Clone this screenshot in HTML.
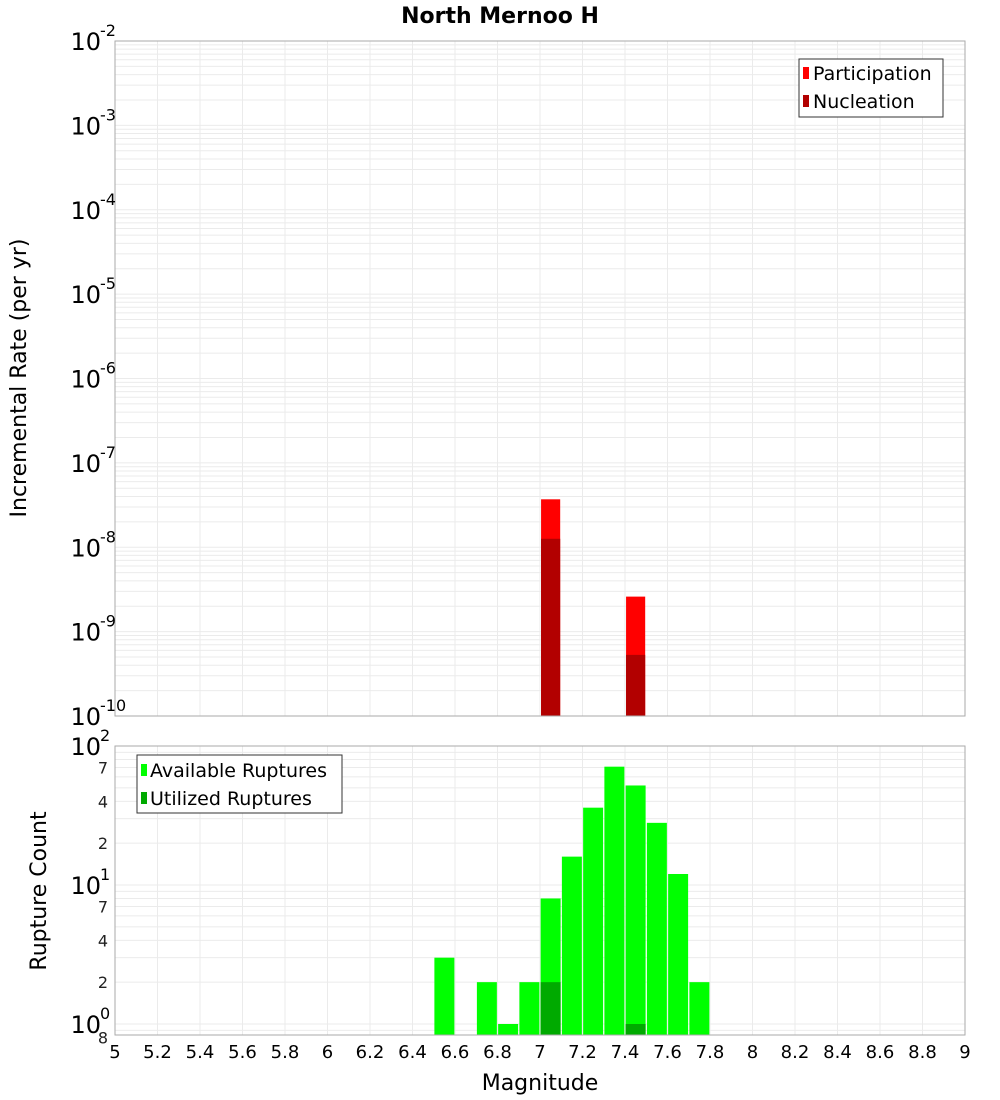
<!DOCTYPE html>
<html><head><meta charset="utf-8"><style>
body{margin:0;background:#fff}
svg{display:block;font-family:"DejaVu Sans","Liberation Sans",sans-serif}
</style></head><body>
<svg id="c" width="1000" height="1100" viewBox="0 0 1000 1100">
<text x="500" y="23" text-anchor="middle" font-size="22" font-weight="bold">North Mernoo H</text>
<g id="gtop"></g>
<g id="gbot"></g>
<text transform="translate(26,378) rotate(-90)" text-anchor="middle" font-size="22">Incremental Rate (per yr)</text>
<text transform="translate(46,891) rotate(-90)" text-anchor="middle" font-size="22">Rupture Count</text>
<text x="540" y="1090" text-anchor="middle" font-size="22">Magnitude</text>
<g>
<rect x="799" y="59" width="144" height="58" fill="#fff" stroke="#333"/>
<rect x="803" y="67" width="6" height="12" fill="#ff0000"/>
<text x="813" y="80" font-size="19">Participation</text>
<rect x="803" y="95" width="6" height="12" fill="#b20000"/>
<text x="813" y="108" font-size="19">Nucleation</text>
</g>
<g>
<rect x="137" y="755" width="205" height="58" fill="#fff" stroke="#333"/>
<rect x="141" y="764" width="6" height="12" fill="#00ff00"/>
<text x="150" y="777" font-size="19">Available Ruptures</text>
<rect x="141" y="792" width="6" height="12" fill="#00aa00"/>
<text x="150" y="805" font-size="19">Utilized Ruptures</text>
</g>
</svg>
<script>
const mags=[6.55,6.65,6.75,6.85,6.95,7.05,7.15,7.25,7.35,7.45,7.55,7.65,7.75];
const available=[3,0,2,1,2,8,16,36,71,52,28,12,2];
const utilized=[0,0,0,0,0,2,0,0,0,1,0,0,0];
const rateMags=[7.05,7.45];
const participation=[3.7e-8,2.6e-9];
const nucleation=[1.26e-8,5.3e-10];
const xTicks=[5,5.2,5.4,5.6,5.8,6,6.2,6.4,6.6,6.8,7,7.2,7.4,7.6,7.8,8,8.2,8.4,8.6,8.8,9];
const topExps=[-2,-3,-4,-5,-6,-7,-8,-9,-10];
const botMinorLabels=[70,40,20,7,4,2,0.8];

const NS="http://www.w3.org/2000/svg";
const L=115,R=965;
function X(m){return L+(m-5)/4*(R-L);}
function mk(p,t,a){const e=document.createElementNS(NS,t);for(const k in a)e.setAttribute(k,a[k]);p.appendChild(e);return e;}
const tY0=41,tY1=716;
function YT(v){return tY0+(-2-Math.log10(v))/8*(tY1-tY0);}
const bTop=746,b0=1024,pd=139;
function YB(v){return b0-Math.log10(v)*pd;}
const bBot=1035;

const gTop=document.getElementById('gtop'),gBot=document.getElementById('gbot');
function grid(g,y0,y1,yf,lo,hi){
  xTicks.forEach(t=>{const l=mk(g,'line',{x1:X(t),x2:X(t),y1:y0,y2:y1,stroke:'#ebebeb'});
  
  });
  for(let e=lo;e<=hi;e++)for(let k=1;k<10;k++){const y=yf(k*Math.pow(10,e));if(y<y0-0.5||y>y1+0.5)continue;
    const l=mk(g,'line',{x1:L,x2:R,y1:y,y2:y,stroke:'#ebebeb'});
    
    }
}
grid(gTop,tY0,tY1,YT,-10,-3);
grid(gBot,bTop,bBot,YB,-1,1);
rateMags.forEach((m,i)=>{
  const x=X(m-0.045),w=X(m+0.045)-x;
  let r=mk(gTop,'rect',{x:x,y:YT(participation[i]),width:w,height:tY1-YT(participation[i]),fill:'#ff0000'});
  
  
  r=mk(gTop,'rect',{x:x,y:YT(nucleation[i]),width:w,height:tY1-YT(nucleation[i]),fill:'#b20000'});
  
  
});
mk(gTop,'rect',{x:L,y:tY0,width:R-L,height:tY1-tY0,fill:'none',stroke:'#aaa'});
topExps.forEach(e=>{const y=YT(Math.pow(10,e));
  let t=mk(gTop,'text',{x:101,y:y+9,'text-anchor':'end','font-size':24});t.textContent='10';
  
  
  t=mk(gTop,'text',{x:100,y:y-5,'font-size':16});t.textContent=String(e);
  
  });
mags.forEach((m,i)=>{
  const x=X(m-0.047),w=X(m+0.047)-x;
  if(available[i]>0){const r=mk(gBot,'rect',{x:x,y:YB(available[i]),width:w,height:bBot-YB(available[i]),fill:'#00ff00'});
    
    }
  if(utilized[i]>0){const r=mk(gBot,'rect',{x:x,y:YB(utilized[i]),width:w,height:bBot-YB(utilized[i]),fill:'#00aa00'});
    
    }
});
mk(gBot,'rect',{x:L,y:bTop,width:R-L,height:bBot-bTop,fill:'none',stroke:'#aaa'});
[2,1,0].forEach(e=>{const y=YB(Math.pow(10,e));
  let t=mk(gBot,'text',{x:101,y:y+9,'text-anchor':'end','font-size':24});t.textContent='10';
  
  
  t=mk(gBot,'text',{x:100,y:y-5,'font-size':16});t.textContent=String(e);
  
  });
botMinorLabels.forEach(v=>{const y=YB(v);
  const t=mk(gBot,'text',{x:103,y:y+6,'text-anchor':'middle','font-size':16,fill:'#222'});
  t.textContent=String(Math.round(v<1?v*10:v/Math.pow(10,Math.floor(Math.log10(v)))));
  
  });
xTicks.forEach(t=>{const e=mk(gBot,'text',{x:X(t),y:1058,'text-anchor':'middle','font-size':18});e.textContent=String(t);
  
  });
</script>
</body></html>
